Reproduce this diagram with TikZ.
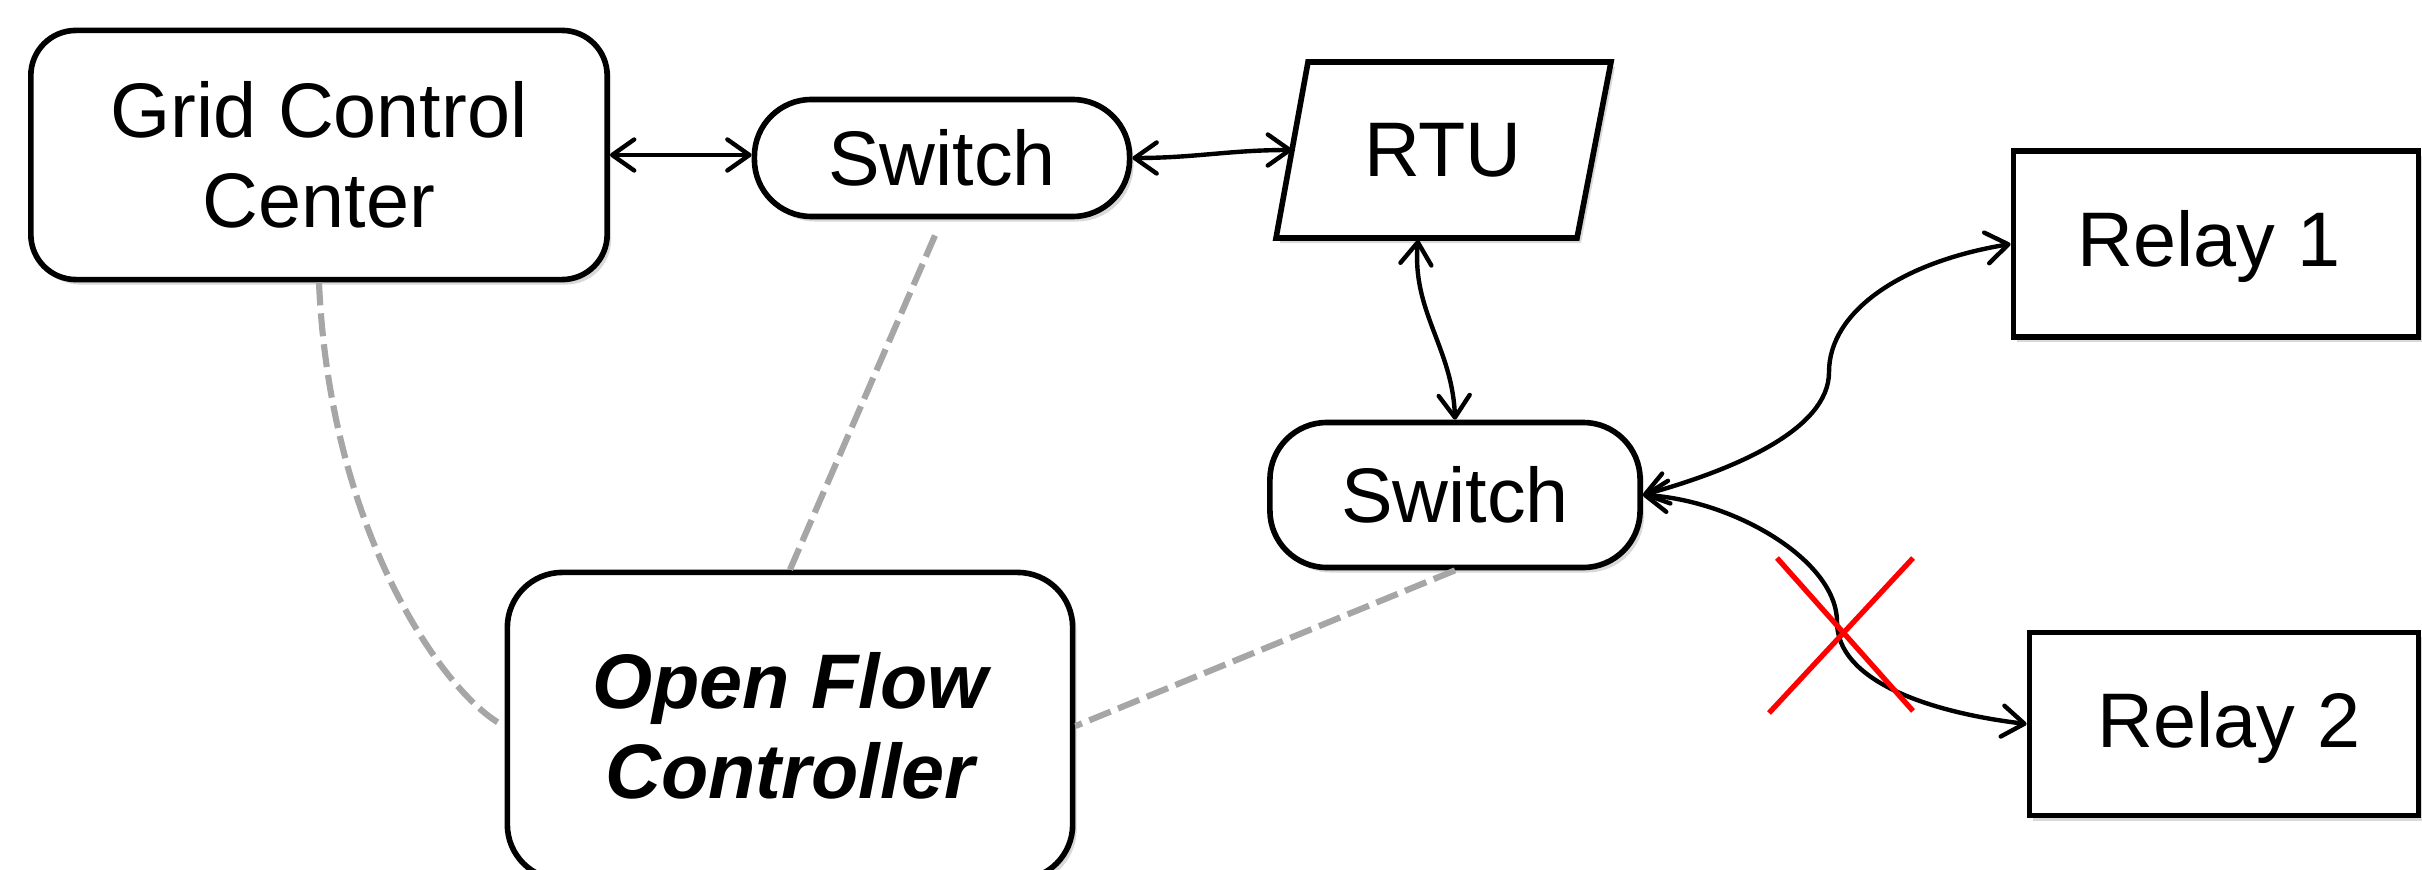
\documentclass[tikz,border=0pt]{standalone}
\usepackage{fontspec}
\setmainfont{Liberation Sans}
\usetikzlibrary{arrows.meta,shadows}
\definecolor{dashgray}{HTML}{A6A6A6}
\begin{document}
\begin{tikzpicture}[x=0.01cm,y=-0.01cm,
  lbl/.style={font=\fontsize{22}{25.6}\selectfont, align=center},
  shd/.style={drop shadow={shadow xshift=0.04cm, shadow yshift=-0.05cm, opacity=0.3}},
  box/.style={draw=black, line width=1.6pt, fill=white, inner sep=0pt, lbl, shd},
  rbox/.style={box, rounded corners=0.45cm},
  stad/.style={box, rounded corners=0.57cm},
  arr/.style={line width=1.25pt, line cap=round,
    {Straight Barb[length=2.2mm,width=3.1mm,round]}-{Straight Barb[length=2.2mm,width=3.1mm,round]}},
  ofl/.style={draw=dashgray, line width=1.75pt, dash pattern=on 0.23cm off 0.08cm},
  xmark/.style={draw=red, line width=1.5pt}]
\useasboundingbox (0,0) rectangle (2422,870);

% nodes
\node[rbox, minimum width=5.76cm, minimum height=2.49cm] (gcc) at (319,155) {Grid Control\\Center};
\node[stad, minimum width=3.75cm, minimum height=1.17cm] (sw1) at (942,158) {Switch};
\node[stad, minimum width=3.70cm, minimum height=1.45cm] (sw2) at (1455,495) {Switch};
\node[box, minimum width=4.05cm, minimum height=1.86cm] (rel1) at (2216,244) {};
\node[lbl] (rel1t) at (2209,246) {Relay 1};
\node[box, minimum width=3.89cm, minimum height=1.83cm] (rel2) at (2224,724) {};
\node[lbl] (rel2t) at (2229,727) {Relay 2};
\node[rbox, rounded corners=0.55cm, minimum width=5.65cm, minimum height=3.07cm,
      font=\fontsize{22}{25.6}\selectfont\bfseries\itshape] (ofc) at (790,726) {Open Flow\\Controller};

% RTU parallelogram
\coordinate (rtuA) at (1308,62);
\coordinate (rtuB) at (1611,62);
\coordinate (rtuC) at (1577,238);
\coordinate (rtuD) at (1276,238);
\path[draw=black, line width=1.6pt, fill=white, shd] (rtuA) -- (rtuB) -- (rtuC) -- (rtuD) -- cycle;
\node[lbl] (rtu) at (1443,150) {RTU};
\coordinate (rtuW) at (1292,150);
\coordinate (rtuS) at (1418,240);

% bend points of the relay links
\coordinate (b1) at (1829,372);
\coordinate (b2) at (1837,622);

% connectors
\draw[arr] (gcc.east) -- (sw1.west |- gcc.east);
\draw[arr] (sw1.east) to[out=0,in=180] (rtuW);
\draw[arr] (rtuS) to[out=-95,in=92] (sw2.north);
\draw[arr] (sw2.east) .. controls +(90,-25) and +(0,58) .. (b1)
                      .. controls +(0,-60) and +(-110,18) .. (rel1.west);
\draw[arr] (sw2.east) .. controls +(90,5) and +(0,-62) .. (b2)
                      .. controls +(0,58) and +(-100,-12) .. (rel2.west);

% dashed control links
\draw[ofl] (gcc.south) .. controls (330,540) and (450,700) .. (ofc.west);
\draw[ofl, shorten >=0.13cm] (ofc.north) -- (sw1.south);
\draw[ofl] (sw2.south) -- (ofc.east);

% red cross
\coordinate (xa) at (1777,558);
\coordinate (xb) at (1913,711);
\coordinate (xc) at (1913,558);
\coordinate (xd) at (1769,713);
\draw[xmark] (xa) -- (xb);
\draw[xmark] (xc) -- (xd);
\end{tikzpicture}
\end{document}
